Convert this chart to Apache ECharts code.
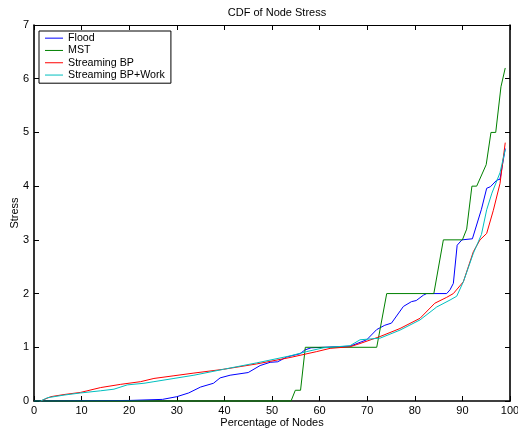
<!DOCTYPE html>
<html>
<head>
<meta charset="utf-8">
<script src="https://cdn.jsdelivr.net/npm/echarts@6/dist/echarts.min.js"></script>
<style>
  html, body { margin: 0; padding: 0; background: #fff; }
  #chart { width: 518px; height: 429px; }
</style>
</head>
<body>
<div id="chart"></div>
<script>
// x ticks / y ticks
const xTicks = [0, 10, 20, 30, 40, 50, 60, 70, 80, 90, 100];
const yTicks = [0, 1, 2, 3, 4, 5, 6, 7];
const seriesNames = ['Flood', 'MST', 'Streaming BP', 'Streaming BP+Work'];

// [percentage of nodes, stress]
const floodPts = [
    [0, 0], [20, 0.01], [27, 0.03], [30, 0.08], [32.5, 0.15], [35, 0.26], [37.7, 0.33],
    [39.1, 0.43], [41.2, 0.48], [45, 0.53], [47.5, 0.66], [49.6, 0.72], [51.2, 0.73],
    [53.1, 0.82], [55.9, 0.88], [56.9, 0.95], [58.2, 0.99], [66.4, 1.02], [69.9, 1.14],
    [72, 1.33], [73.7, 1.41], [75.1, 1.45], [77.6, 1.76], [79.3, 1.85], [80.3, 1.87],
    [81.8, 1.97], [82.5, 2.0], [86.7, 2.0], [87.4, 2.07], [88.1, 2.19], [88.9, 2.9],
    [89.9, 3.0], [92.1, 3.02], [94.0, 3.57], [95.1, 3.96], [95.9, 3.99], [97.2, 4.11],
    [97.9, 4.13], [99, 4.7]
];
const mstPts = [
    [0, 0], [54, 0], [54.9, 0.2], [56, 0.2], [57, 1], [72, 1], [74.1, 2], [84, 2],
    [86, 3], [90, 3], [90.9, 3.2], [92, 4], [93, 4], [95, 4.4], [96, 5], [97, 5],
    [98.1, 5.85], [99, 6.2]
];
const bpPts = [
    [1.4, 0], [3.5, 0.08], [6.3, 0.12], [9.8, 0.16], [14, 0.25], [18.2, 0.31], [22.4, 0.36],
    [25.2, 0.42], [29.4, 0.47], [33.6, 0.52], [39.8, 0.59], [46.8, 0.69], [53.8, 0.81],
    [59.4, 0.92], [62.2, 0.98], [66.4, 1.01], [68.5, 1.07], [72.7, 1.2], [76.9, 1.35],
    [81.1, 1.54], [84.2, 1.82], [86.7, 1.93], [88.1, 2.0], [90.2, 2.22], [92.3, 2.78],
    [93.7, 3.0], [95.1, 3.12], [96.5, 3.55], [97.9, 4.05], [99, 4.81]
];
const bpWorkPts = [
    [1.4, 0], [2.8, 0.06], [6.3, 0.11], [9.8, 0.15], [14, 0.19], [16.8, 0.22], [19.6, 0.3],
    [23.1, 0.33], [25.2, 0.36], [29.4, 0.42], [33.6, 0.48], [39.8, 0.59], [46.8, 0.71],
    [53.8, 0.84], [57.3, 0.92], [60.8, 0.99], [66.4, 1.03], [68.5, 1.14], [72.7, 1.17],
    [76.9, 1.32], [81.1, 1.51], [84.6, 1.75], [87.4, 1.88], [88.8, 1.95], [90.2, 2.22],
    [92.3, 2.75], [94, 3.1], [95.1, 3.56], [96.2, 3.87], [97.9, 4.25], [99, 4.68]
];

const colors = ['#0000ff', '#008000', '#ff0000', '#00bfbf'];
const font = 'Liberation Sans, Arial, sans-serif';

const chart = echarts.init(document.getElementById('chart'));

function makeSeries(name, pts, color) {
    return {
        name: name,
        type: 'line',
        data: pts,
        symbol: 'none',
        clip: false,
        z: 10,
        lineStyle: { color: color, width: 1 },
        itemStyle: { color: color },
        animation: false
    };
}

function axisBase(w) {
    return {
        type: 'value',
        axisLine: { show: true, onZero: false, lineStyle: { color: '#000', width: w } },
        axisTick: { show: true, inside: true, length: 5, lineStyle: { color: '#000', width: 1 } },
        splitLine: { show: false }
    };
}

const option = {
    backgroundColor: '#fff',
    animation: false,
    title: {
        text: 'CDF of Node Stress',
        left: 272,
        textAlign: 'center',
        top: 2,
        textStyle: { fontFamily: font, fontSize: 11, fontWeight: 'normal', color: '#000' }
    },
    legend: {
        data: seriesNames,
        orient: 'vertical',
        left: 39,
        top: 31,
        z: 20,
        padding: [1, 6, 2, 6],
        itemGap: 0,
        itemWidth: 18,
        itemHeight: 12,
        icon: 'path://M0,0L18,0L18,1L0,1Z',
        backgroundColor: '#fff',
        borderColor: '#000',
        borderWidth: 1,
        borderRadius: 0,
        textStyle: { fontFamily: font, fontSize: 10.7, color: '#000', lineHeight: 12.3 }
    },
    grid: { left: 34, right: 8, top: 25, bottom: 28, containLabel: false, outerBoundsMode: 'none' },
    xAxis: [
        Object.assign(axisBase(1.6), {
            min: xTicks[0], max: xTicks[xTicks.length - 1], interval: 10,
            position: 'bottom',
            name: 'Percentage of Nodes',
            nameLocation: 'middle',
            nameGap: 16,
            nameMoveOverlap: false,
            nameTextStyle: { fontFamily: font, fontSize: 11, color: '#000' },
            axisLabel: { fontFamily: font, fontSize: 11, color: '#000', margin: 4 }
        }),
        Object.assign(axisBase(1.2), {
            min: xTicks[0], max: xTicks[xTicks.length - 1], interval: 10,
            position: 'top',
            axisLabel: { show: false }
        })
    ],
    yAxis: [
        Object.assign(axisBase(1.6), {
            min: yTicks[0], max: yTicks[yTicks.length - 1], interval: 1,
            position: 'left',
            name: 'Stress',
            nameLocation: 'middle',
            nameGap: 14,
            nameMoveOverlap: false,
            nameTextStyle: { fontFamily: font, fontSize: 11, color: '#000' },
            axisLabel: { fontFamily: font, fontSize: 11, color: '#000', margin: 5 }
        }),
        Object.assign(axisBase(1.6), {
            min: yTicks[0], max: yTicks[yTicks.length - 1], interval: 1,
            position: 'right',
            axisLabel: { show: false }
        })
    ],
    series: [
        makeSeries(seriesNames[0], floodPts, colors[0]),
        makeSeries(seriesNames[1], mstPts, colors[1]),
        makeSeries(seriesNames[2], bpPts, colors[2]),
        makeSeries(seriesNames[3], bpWorkPts, colors[3])
    ]
};

chart.setOption(option);
</script>
</body>
</html>
